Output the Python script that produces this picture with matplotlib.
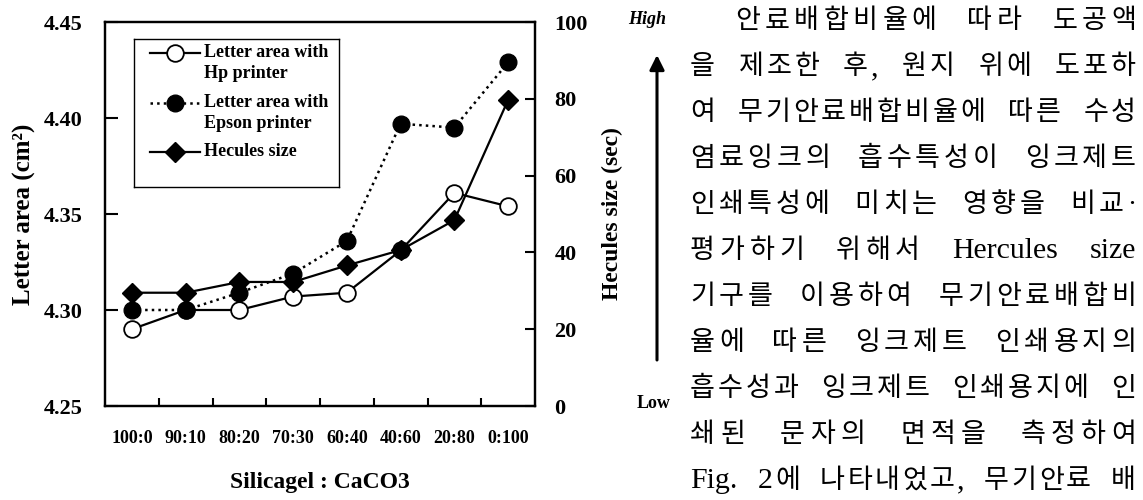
import numpy as np
import matplotlib
matplotlib.use('Agg')
import matplotlib.pyplot as plt

# data
ratios = ['100:0', '90:10', '80:20', '70:30', '60:40', '40:60', '20:80', '0:100']
hp_area = [4.290, 4.300, 4.300, 4.307, 4.309, 4.331, 4.361, 4.354]
epson_area = [4.300, 4.300, 4.309, 4.319, 4.336, 4.397, 4.395, 4.429]
hercules = [29.5, 29.5, 32.3, 32.3, 36.6, 40.6, 48.4, 79.7]

area_ticks = [4.25, 4.30, 4.35, 4.40, 4.45]
size_ticks = [0, 20, 40, 60, 80, 100]

legend_labels = ['Letter area with\nHp printer',
                 'Letter area with\nEpson printer',
                 'Hecules size']

body_lines = [
    "안료배합비율에 따라 도공액",
    "을 제조한 후, 원지 위에 도포하",
    "여 무기안료배합비율에 따른 수성",
    "염료잉크의 흡수특성이 잉크제트",
    "인쇄특성에 미치는 영향을 비교·",
    "평가하기 위해서 Hercules size",
    "기구를 이용하여 무기안료배합비",
    "율에 따른 잉크제트 인쇄용지의",
    "흡수성과 잉크제트 인쇄용지에 인",
    "쇄된 문자의 면적을 측정하여",
    "Fig. 2에 나타내었고, 무기안료 배",
]

serif = ['Liberation Serif', 'DejaVu Serif']
plt.rcParams['font.family'] = serif
plt.rcParams['font.weight'] = 'bold'

W, H = 1143, 500
fig = plt.figure(figsize=(W / 100, H / 100), dpi=100)
ax = fig.add_axes([105 / W, 1 - 406 / H, 430 / W, 384 / H])
ax2 = ax.twinx()

hp_style = dict(ls='-', color='k', lw=1.6, marker='o', ms=12,
                mfc='white', mec='k', mew=1.3)
ep_style = dict(ls=':', color='k', lw=1.8, marker='o', ms=12,
                mfc='k', mec='k')
hc_style = dict(ls='-', color='k', lw=1.6, marker='D', ms=10.5,
                mfc='k', mec='k')

x = np.arange(len(ratios))
ax.plot(x, hp_area, **hp_style)
ax.plot(x, epson_area, **ep_style)
ax2.plot(x, hercules, **hc_style)

ax.set_xlim(-0.5, len(ratios) - 0.5)
ax.set_ylim(4.25, 4.45)
ax2.set_ylim(0, 100)

ax.set_xticks(x)
ax.set_xticklabels(ratios, fontsize=13, fontweight='bold')
ax.set_xticks(x[:-1] + 0.5, minor=True)
ax.tick_params(axis='x', which='major', length=0, pad=17)
ax.tick_params(axis='x', which='minor', direction='in', length=6, width=1.5)

ax.set_yticks(area_ticks)
ax.set_yticklabels(['%.2f' % v for v in area_ticks], fontsize=16, fontweight='bold')
ax.tick_params(axis='y', direction='in', length=9, width=1.5, pad=16)
ax.yaxis.set_minor_locator(plt.NullLocator())

ax2.set_yticks(size_ticks)
ax2.set_yticklabels([str(v) for v in size_ticks], fontsize=16, fontweight='bold')
ax2.tick_params(axis='y', direction='in', length=7, width=1.5, pad=14)

for a in (ax, ax2):
    for s in a.spines.values():
        s.set_linewidth(1.6)

ax.set_xlabel('Silicagel : CaCO3', fontsize=17, fontweight='bold', labelpad=18)
ax.set_ylabel('Letter area (cm²)', fontsize=18, fontweight='bold', labelpad=6)
ax2.set_ylabel('Hecules size (sec)', fontsize=17, fontweight='bold', labelpad=10)

# legend drawn in its own small axes so the handles sit on the first line
lg = fig.add_axes([134 / W, 1 - 187 / H, 205 / W, 148 / H])
lg.set_xlim(0, 205)
lg.set_ylim(148, 0)
lg.set_xticks([])
lg.set_yticks([])
for s in lg.spines.values():
    s.set_linewidth(1.0)
rows = [14, 64, 113]
for yy, st, lab in zip(rows, [hp_style, ep_style, hc_style], legend_labels):
    lg.plot([16, 66], [yy, yy], **dict(st, marker=None))
    lg.plot([41], [yy], **dict(st, ls='none'))
    lg.text(70, yy - 9, lab, ha='left', va='top', fontsize=13,
            fontweight='bold', linespacing=1.3)

# High / Low arrow beside the chart
fig.text(647 / W, 1 - 20 / H, 'High', ha='center', va='center',
         fontsize=13, fontweight='bold', fontstyle='italic')
fig.text(654 / W, 1 - 403 / H, 'Low', ha='center', va='center',
         fontsize=13, fontweight='bold')
ax.annotate('', xy=(657, H - 55), xytext=(657, H - 360),
            xycoords='figure pixels', textcoords='figure pixels',
            arrowprops=dict(arrowstyle='-|>', lw=2.2, color='k',
                            mutation_scale=22, shrinkA=0, shrinkB=0))


# korean paragraph, justified over characters and spaces
def split_units(line):
    units = []
    buf = ''
    for ch in line:
        if ch == ' ':
            if buf:
                units.append(buf)
                buf = ''
            units.append(' ')
        elif ord(ch) < 128:
            buf += ch
        else:
            if buf:
                units.append(buf)
                buf = ''
            units.append(ch)
    if buf:
        units.append(buf)
    return units


kfam = ['Liberation Serif', 'Noto Sans CJK KR']
renderer = fig.canvas.get_renderer()
left, right = 690, 1136
space_w = 8
space_weight = 3
for i, line in enumerate(body_lines):
    yc = 22 + i * 45.9
    x0 = 735 if i == 0 else left
    units = split_units(line)
    texts, widths = [], []
    for u in units:
        if u == ' ':
            texts.append(None)
            widths.append(space_w)
        else:
            size = 21.5 if ord(u[0]) < 128 else 19.5
            t = fig.text(0, 1 - yc / H, u, ha='left', va='center', fontsize=size,
                         fontweight='normal', family=kfam)
            texts.append(t)
            widths.append(t.get_window_extent(renderer).width)
    n_gaps = len(units) - 1
    n_sp = units.count(' ')
    extra = (right - x0 - sum(widths)) / (n_gaps + n_sp * space_weight)
    pos = x0
    for t, u, w in zip(texts, units, widths):
        if t is not None:
            t.set_x(pos / W)
            pos += w + extra
        else:
            pos += w + extra * space_weight + extra

fig.savefig('out.png', dpi=100)
